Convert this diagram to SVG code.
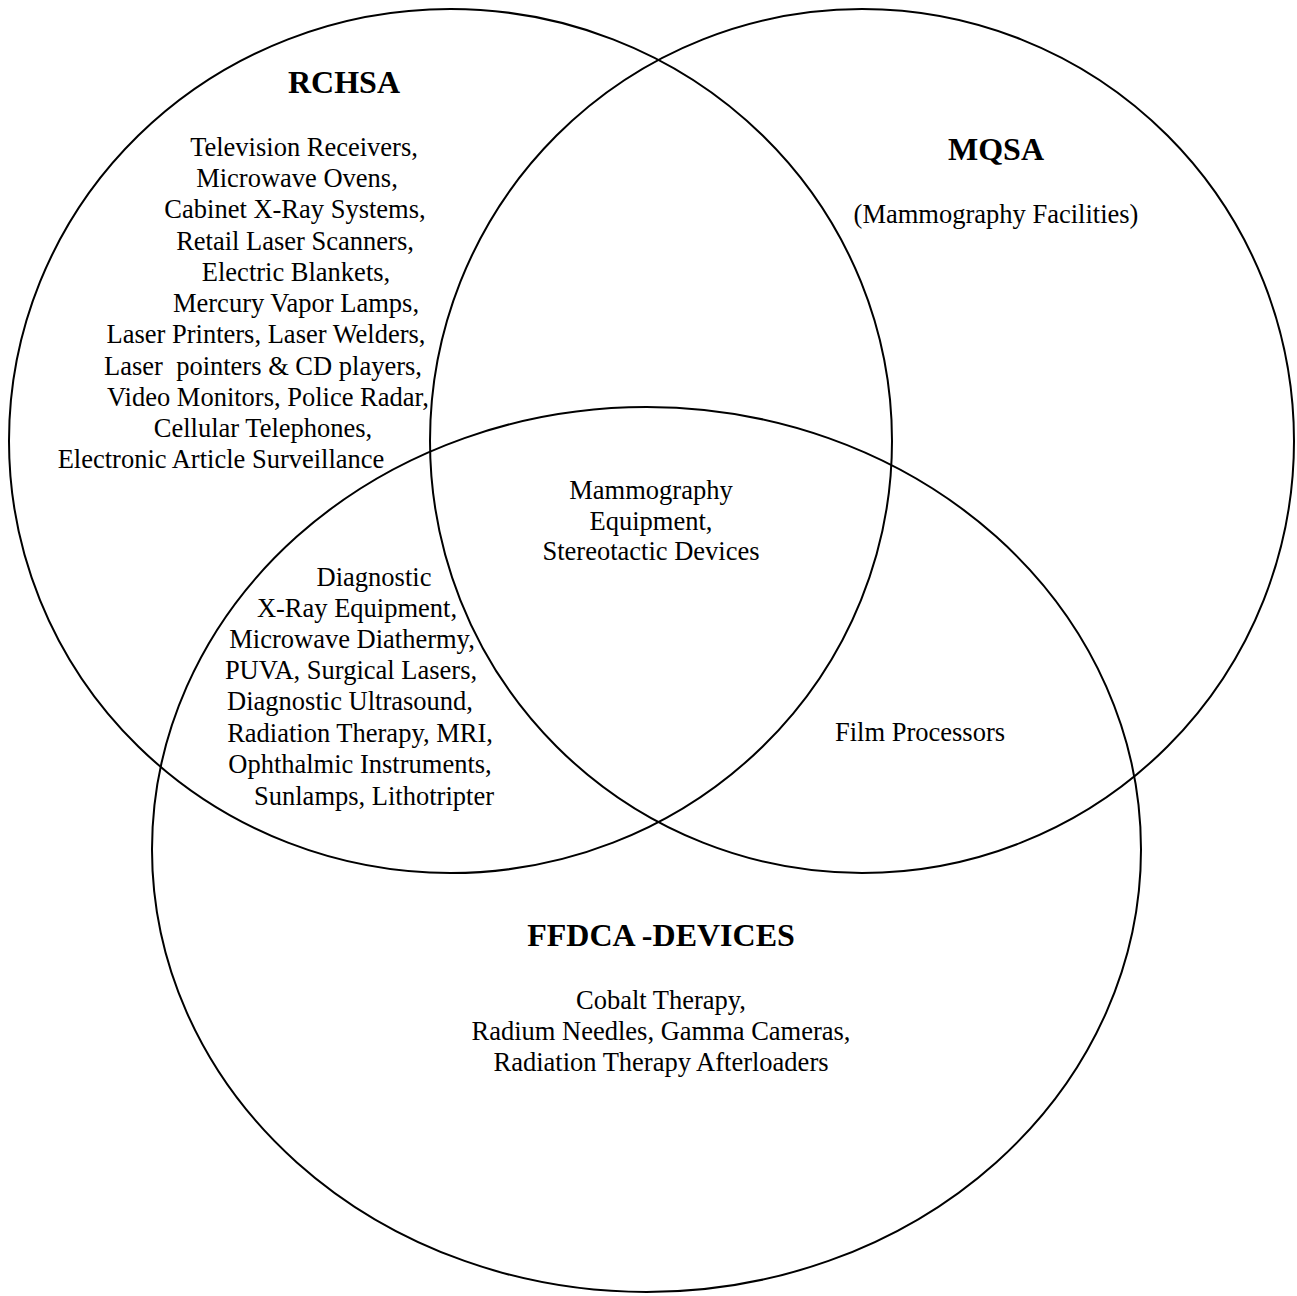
<svg xmlns="http://www.w3.org/2000/svg" width="1297" height="1296" viewBox="0 0 1297 1296">
<style>
.c{fill:none;stroke:#000;stroke-width:2}
text{font-family:"Liberation Serif","Times New Roman",serif;fill:#000;text-anchor:middle}
.t{font-size:26.5px;white-space:pre}
.h{font-size:32px;font-weight:bold}
</style>
<rect width="1297" height="1296" fill="#fff"/>
<g id="connectors"/>
<g id="rchsa">
<ellipse class="c" cx="450.5" cy="441" rx="441.5" ry="432"/>
<text class="h" x="344" y="93">RCHSA</text>
<text class="t" x="304" y="155.5">Television Receivers,</text>
<text class="t" x="297" y="187">Microwave Ovens,</text>
<text class="t" x="295" y="218">Cabinet X-Ray Systems,</text>
<text class="t" x="295" y="249.5">Retail Laser Scanners,</text>
<text class="t" x="296" y="280.5">Electric Blankets,</text>
<text class="t" x="296" y="311.5">Mercury Vapor Lamps,</text>
<text class="t" x="266" y="343">Laser Printers, Laser Welders,</text>
<text class="t" x="263" y="374.5">Laser  pointers &amp; CD players,</text>
<text class="t" x="268" y="405.5">Video Monitors, Police Radar,</text>
<text class="t" x="263" y="436.5">Cellular Telephones,</text>
<text class="t" x="221" y="468">Electronic Article Surveillance</text>
</g>
<g id="mqsa">
<ellipse class="c" cx="862" cy="441" rx="432" ry="432"/>
<text class="h" x="996" y="160">MQSA</text>
<text class="t" x="996" y="223">(Mammography Facilities)</text>
</g>
<g id="ffdca">
<ellipse class="c" cx="646.5" cy="849.5" rx="494.5" ry="442.5"/>
<text class="h" x="661" y="946">FFDCA -DEVICES</text>
<text class="t" x="661" y="1009">Cobalt Therapy,</text>
<text class="t" x="661" y="1040">Radium Needles, Gamma Cameras,</text>
<text class="t" x="661" y="1071">Radiation Therapy Afterloaders</text>
</g>
<g id="all-three">
<text class="t" x="651" y="499">Mammography</text>
<text class="t" x="651" y="530">Equipment,</text>
<text class="t" x="651" y="560">Stereotactic Devices</text>
</g>
<g id="rchsa-ffdca">
<text class="t" x="374" y="586">Diagnostic</text>
<text class="t" x="357" y="617">X-Ray Equipment,</text>
<text class="t" x="352" y="648">Microwave Diathermy,</text>
<text class="t" x="351" y="679">PUVA, Surgical Lasers,</text>
<text class="t" x="350" y="710">Diagnostic Ultrasound,</text>
<text class="t" x="360" y="742">Radiation Therapy, MRI,</text>
<text class="t" x="360" y="773">Ophthalmic Instruments,</text>
<text class="t" x="374" y="805">Sunlamps, Lithotripter</text>
</g>
<g id="mqsa-ffdca">
<text class="t" x="920" y="741">Film Processors</text>
</g>
</svg>
